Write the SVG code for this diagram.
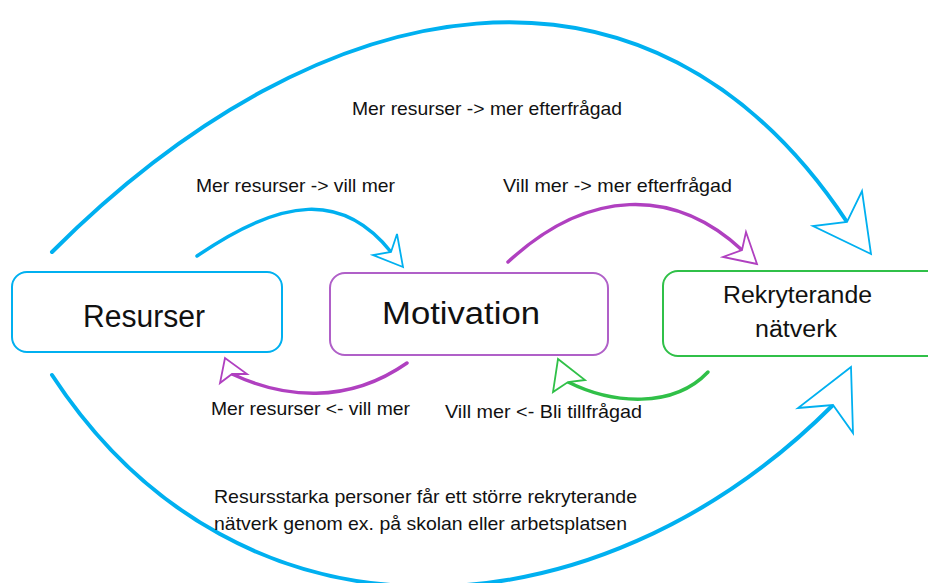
<svg xmlns="http://www.w3.org/2000/svg" width="928" height="583" viewBox="0 0 928 583">
<style>
  .box { fill: #ffffff; stroke-width: 2; }
  .lbl { font-family: "Liberation Sans", Arial, sans-serif; fill: #111111; }
  .big { font-size: 31px; }
  .mid { font-size: 23.5px; }
  .sm { font-size: 19px; }
  .line { fill: none; stroke-linecap: round; }
  .head { fill: #ffffff; stroke-width: 1.8; stroke-linejoin: miter; }
  .blue { stroke: #00B0F0; }
  .purple { stroke: #B040C0; }
  .green { stroke: #30C048; }
</style>
<rect width="928" height="583" fill="#ffffff"/>

<g id="connectors">
  <path class="line blue" stroke-width="4" d="M52,252 C322,-18 649,-77 847,222"/>
  <polygon class="head blue" points="871,254 813,226 847,222 862,191"/>

  <path class="line blue" stroke-width="4" d="M52,375 C239,661 595,643 833,405"/>
  <polygon class="head blue" points="851,367 798,408 833,405 853,433"/>

  <path class="line blue" stroke-width="3.5" d="M197,256 C283,197 343,192 391,252"/>
  <polygon class="head blue" points="403,267 373,255 391,252 397,234"/>

  <path class="line purple" stroke-width="3.5" d="M508,262 C588,188 674,187 742,250"/>
  <polygon class="head purple" points="757,264 723,257 742,250 746,232"/>

  <path class="line purple" stroke-width="3.5" d="M407,363 C347,405 283,398 232,374"/>
  <polygon class="head purple" points="225,358 220,383 232,374 247,374"/>

  <path class="line green" stroke-width="3.5" d="M708,372 C673,409 612,404 568,382"/>
  <polygon class="head green" points="558,359 553,392 568,382 585,380"/>

  <text class="lbl sm" x="352" y="115" textLength="270" lengthAdjust="spacingAndGlyphs">Mer resurser -&gt; mer efterfrågad</text>
  <text class="lbl sm" x="196" y="192" textLength="199" lengthAdjust="spacingAndGlyphs">Mer resurser -&gt; vill mer</text>
  <text class="lbl sm" x="503" y="192" textLength="229" lengthAdjust="spacingAndGlyphs">Vill mer -&gt; mer efterfrågad</text>
  <text class="lbl sm" x="211" y="415" textLength="199" lengthAdjust="spacingAndGlyphs">Mer resurser &lt;- vill mer</text>
  <text class="lbl sm" x="445" y="418" textLength="197" lengthAdjust="spacingAndGlyphs">Vill mer &lt;- Bli tillfrågad</text>
  <text class="lbl sm" x="214" y="503" textLength="423" lengthAdjust="spacingAndGlyphs">Resursstarka personer får ett större rekryterande</text>
  <text class="lbl sm" x="214" y="530" textLength="413" lengthAdjust="spacingAndGlyphs">nätverk genom ex. på skolan eller arbetsplatsen</text>
</g>

<g id="node-resurser">
  <rect class="box blue" x="12" y="272" width="270" height="80" rx="15"/>
  <text class="lbl big" x="83" y="327" textLength="122" lengthAdjust="spacingAndGlyphs">Resurser</text>
</g>

<g id="node-motivation">
  <rect class="box purple" x="330" y="273" width="278" height="82" rx="15" style="stroke:#B060C8"/>
  <text class="lbl big" x="382" y="324" textLength="158" lengthAdjust="spacingAndGlyphs">Motivation</text>
</g>

<g id="node-rekryterande">
  <rect class="box green" x="663" y="271" width="280" height="85" rx="15"/>
  <text class="lbl mid" x="723" y="303" textLength="149" lengthAdjust="spacingAndGlyphs">Rekryterande</text>
  <text class="lbl mid" x="755" y="337" textLength="82" lengthAdjust="spacingAndGlyphs">nätverk</text>
</g>
</svg>
